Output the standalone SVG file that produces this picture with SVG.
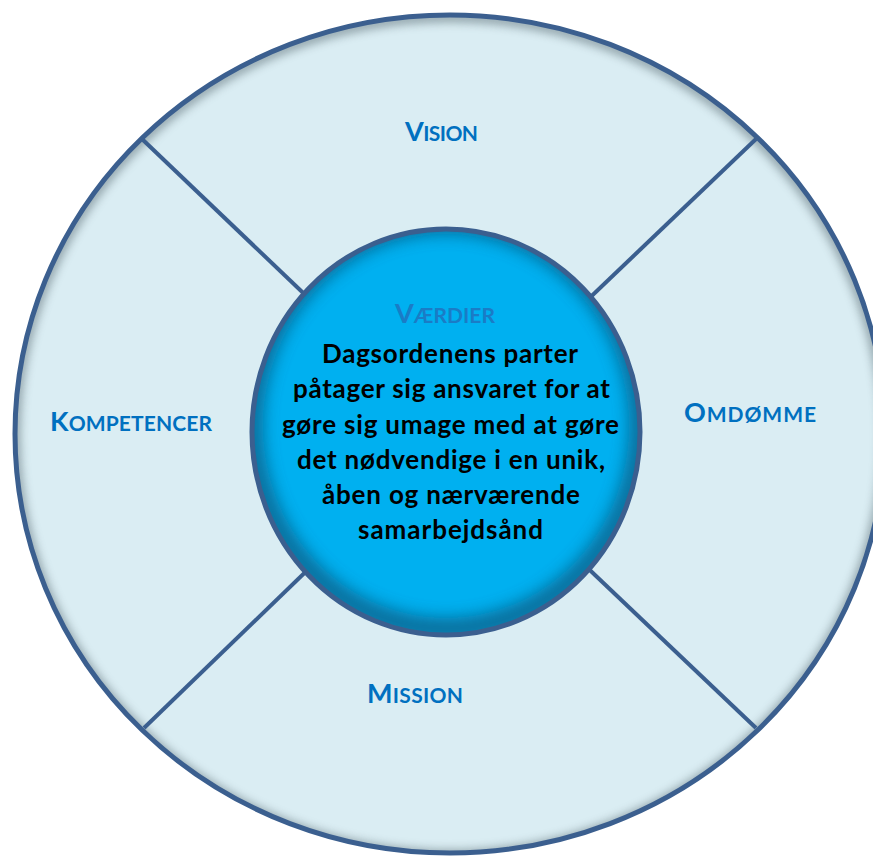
<svg xmlns="http://www.w3.org/2000/svg" width="873" height="856" viewBox="0 0 873 856">
  <style>
    .lbl { font-family: Lato, "Liberation Sans", sans-serif; font-weight: bold; fill: #0070C0; text-anchor: middle; }
    .big { font-size: 27px; }
    .sc { font-size: 21px; }
    .body { font-family: Lato, "Liberation Sans", sans-serif; font-weight: bold; font-size: 26px; fill: #000; text-anchor: middle; }
    .div { stroke: #3B5F8F; stroke-width: 4; fill: none; }
  </style>
  <defs>
    <clipPath id="outerClip"><ellipse cx="450" cy="434" rx="435" ry="419"/></clipPath>
    <clipPath id="innerClip"><ellipse cx="446" cy="432" rx="194" ry="203"/></clipPath>
    <filter id="blur6" x="-20%" y="-20%" width="140%" height="140%"><feGaussianBlur stdDeviation="5"/></filter>
    <filter id="blur8" x="-20%" y="-20%" width="140%" height="140%"><feGaussianBlur stdDeviation="8"/></filter>
  </defs>

  <g id="outer-ring">
    <ellipse cx="450" cy="434" rx="435" ry="419" fill="#DAEDF3"/>
    <g clip-path="url(#outerClip)">
      <ellipse cx="450" cy="436" rx="435" ry="419" fill="none" stroke="#6d7f86" stroke-width="10" filter="url(#blur6)" opacity="0.7"/>
    </g>
    <ellipse cx="450" cy="434" rx="435" ry="419" fill="none" stroke="#3B5F8F" stroke-width="5"/>
  </g>

  <g id="connectors">
    <line class="div" x1="142" y1="139" x2="320" y2="309"/>
    <line class="div" x1="756" y1="139" x2="578" y2="309"/>
    <line class="div" x1="144" y1="728" x2="322" y2="556"/>
    <line class="div" x1="756" y1="728" x2="575" y2="556"/>
  </g>

  <g id="center">
    <ellipse cx="446" cy="432" rx="194" ry="203" fill="#00B0F0"/>
    <g clip-path="url(#innerClip)">
      <ellipse cx="446" cy="426" rx="194" ry="203" fill="none" stroke="#0a5f86" stroke-width="22" filter="url(#blur8)" opacity="0.8"/>
    </g>
    <ellipse cx="446" cy="432" rx="194" ry="203" fill="none" stroke="#3B5F8F" stroke-width="5"/>
    <text class="lbl" x="445" y="323" textLength="100" lengthAdjust="spacing" style="fill:#1A7CC6"><tspan class="big">V</tspan><tspan class="sc">ÆRDIER</tspan></text>
    <text class="body" x="450" y="363" textLength="256" lengthAdjust="spacing">Dagsordenens parter</text>
    <text class="body" x="451.5" y="398" textLength="317" lengthAdjust="spacing">påtager sig ansvaret for at</text>
    <text class="body" x="450.5" y="434" textLength="337" lengthAdjust="spacing">gøre sig umage med at gøre</text>
    <text class="body" x="451" y="469" textLength="308" lengthAdjust="spacing">det nødvendige i en unik,</text>
    <text class="body" x="451" y="504" textLength="258" lengthAdjust="spacing">åben og nærværende</text>
    <text class="body" x="450.5" y="539" textLength="185" lengthAdjust="spacing">samarbejdsånd</text>
  </g>

  <g id="vision">
    <text class="lbl" x="441.5" y="141" textLength="73" lengthAdjust="spacing"><tspan class="big">V</tspan><tspan class="sc">ISION</tspan></text>
  </g>
  <g id="omdomme">
    <text class="lbl" x="750" y="422" textLength="132" lengthAdjust="spacing"><tspan class="big">O</tspan><tspan class="sc">MDØMME</tspan></text>
  </g>
  <g id="mission">
    <text class="lbl" x="415" y="703" textLength="96" lengthAdjust="spacing"><tspan class="big">M</tspan><tspan class="sc">ISSION</tspan></text>
  </g>
  <g id="kompetencer">
    <text class="lbl" x="131" y="431" textLength="162" lengthAdjust="spacing"><tspan class="big">K</tspan><tspan class="sc">OMPETENCER</tspan></text>
  </g>
</svg>
